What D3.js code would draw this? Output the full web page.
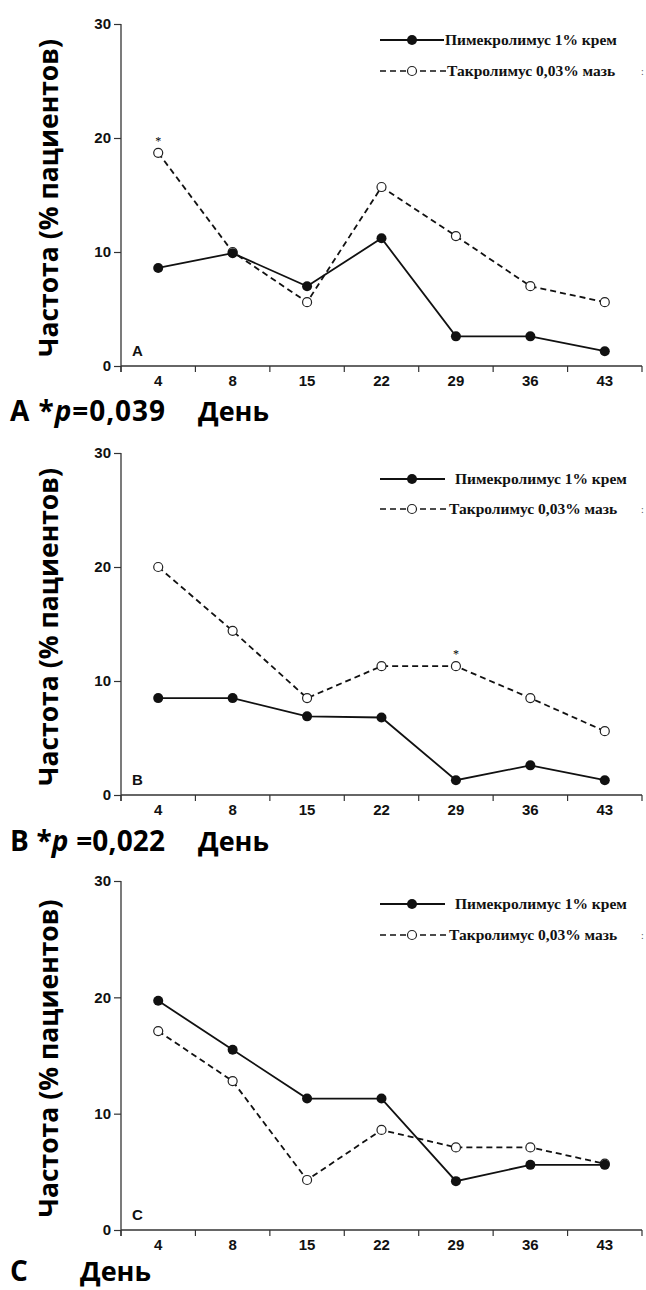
<!DOCTYPE html>
<html><head><meta charset="utf-8">
<script src="https://cdn.jsdelivr.net/npm/d3@7"></script>
<style>
html,body{margin:0;padding:0;background:#fff;}
svg{display:block;}
</style></head>
<body>
<script>
// ---- data ----
const days = ["4","8","15","22","29","36","43"];
const yTicks = [0,10,20,30];
const seriesNames = ["Пимекролимус 1% крем","Такролимус 0,03% мазь"];
const pimeA = [8.6, 9.9, 7.0, 11.2, 2.6, 2.6, 1.3];
const tacroA = [18.7, 10.0, 5.6, 15.7, 11.4, 7.0, 5.6];
const pimeB = [8.5, 8.5, 6.9, 6.8, 1.3, 2.6, 1.3];
const tacroB = [20.0, 14.4, 8.5, 11.3, 11.3, 8.5, 5.6];
const pimeC = [19.7, 15.5, 11.3, 11.3, 4.2, 5.6, 5.6];
const tacroC = [17.1, 12.8, 4.3, 8.6, 7.1, 7.1, 5.7];
const panelLetters = ["A","B","C"];
const bottomLetters = ["А","В","С"];
const pValues = ["=0,039"," =0,022",""];
const starDay = ["4","29",null];
const yTitle = "Частота (% пациентов)";
const xTitle = "День";

const W = 646, H = 1290;
const svg = d3.select("body").append("svg").attr("width", W).attr("height", H);

const panels = [
  {top:24, bottom:366, pime:pimeA, tacro:tacroA, leg:[40,71], lineEnd:[444,446], textX:[445,447], by:421},
  {top:453, bottom:795, pime:pimeB, tacro:tacroB, leg:[479,509], lineEnd:[445,448], textX:[455,449], by:851},
  {top:881, bottom:1230, pime:pimeC, tacro:tacroC, leg:[904,935], lineEnd:[445,448], textX:[455,449], by:1281}
];
const left = 121, right = 642;
const axisColor = "#333";
const numFont = "'Liberation Sans Narrow','Arial Narrow','Liberation Sans',Arial,sans-serif";
const serif = "'Liberation Serif','Times New Roman',serif";
const boldSans = "'Open Sans','Noto Sans',sans-serif";

panels.forEach((p, i) => {
  const g = svg.append("g");
  const x = d3.scaleBand().domain(days).range([left, right]).padding(0);
  const y = d3.scaleLinear().domain([0,30]).range([p.bottom, p.top]);

  // y axis
  const ya = g.append("g").attr("transform", `translate(${left},0)`)
    .call(d3.axisLeft(y).tickValues(yTicks).tickSize(7).tickPadding(3).tickSizeOuter(0));
  ya.select(".domain").attr("stroke", axisColor).attr("stroke-width", 1.3)
    .attr("d", `M0,${y(30)}V${y(0)+6}`);
  ya.selectAll(".tick line").attr("stroke", axisColor).attr("stroke-width", 1.2);
  ya.selectAll(".tick text").attr("font-family", numFont).attr("font-size", 15)
    .attr("font-weight", "bold").attr("fill", "#111");

  // x axis
  const xa = g.append("g").attr("transform", `translate(0,${p.bottom})`)
    .call(d3.axisBottom(x).tickSize(0).tickPadding(9));
  xa.select(".domain").attr("stroke", axisColor).attr("stroke-width", 1.3)
    .attr("d", `M${left},0H${right}`);
  xa.selectAll(".tick text").attr("font-family", numFont).attr("font-size", 15)
    .attr("font-weight", "bold").attr("fill", "#111");
  const bounds = days.map(d => x(d)).concat([right]);
  g.selectAll(".xb").data(bounds).enter().append("line")
    .attr("x1", d => d).attr("x2", d => d)
    .attr("y1", p.bottom).attr("y2", p.bottom + 6)
    .attr("stroke", axisColor).attr("stroke-width", 1.2);

  const cx = d => x(d) + x.bandwidth()/2;
  const line = d3.line().x((v,j) => cx(days[j])).y(v => y(v));

  // tacrolimus dashed
  g.append("path").datum(p.tacro).attr("d", line).attr("fill","none")
    .attr("stroke","#111").attr("stroke-width",1.8).attr("stroke-dasharray","6,4");
  // pimecrolimus solid
  g.append("path").datum(p.pime).attr("d", line).attr("fill","none")
    .attr("stroke","#111").attr("stroke-width",1.8);

  g.selectAll(".tp").data(p.tacro).enter().append("circle")
    .attr("cx",(v,j)=>cx(days[j])).attr("cy",v=>y(v)).attr("r",4.5)
    .attr("fill","#fff").attr("stroke","#222").attr("stroke-width",1.2);
  g.selectAll(".pp").data(p.pime).enter().append("circle")
    .attr("cx",(v,j)=>cx(days[j])).attr("cy",v=>y(v)).attr("r",5)
    .attr("fill","#111");

  // star
  if (starDay[i]) {
    const j = days.indexOf(starDay[i]);
    g.append("text").attr("x", cx(starDay[i])).attr("y", y(p.tacro[j]) - 8)
      .attr("text-anchor","middle").attr("font-family", serif).attr("font-size", 12)
      .text("*");
  }

  // panel letter
  g.append("text").attr("x", 132).attr("y", p.bottom - 10)
    .attr("font-family", "'Liberation Sans',Arial,sans-serif").attr("font-weight","bold")
    .attr("font-size", 15).attr("fill","#111").text(panelLetters[i]);

  // legend
  g.append("line").attr("x1", 380).attr("x2", p.lineEnd[0]).attr("y1", p.leg[0]).attr("y2", p.leg[0])
    .attr("stroke","#111").attr("stroke-width",1.8);
  g.append("circle").attr("cx", 412).attr("cy", p.leg[0]).attr("r", 5).attr("fill","#111");
  g.append("text").attr("x", p.textX[0]).attr("y", p.leg[0] + 5).attr("font-family", serif)
    .attr("font-weight","bold").attr("font-size", 15.5).attr("fill","#111").text(seriesNames[0]);
  g.append("line").attr("x1", 380).attr("x2", p.lineEnd[1]).attr("y1", p.leg[1]).attr("y2", p.leg[1])
    .attr("stroke","#111").attr("stroke-width",1.6).attr("stroke-dasharray","6,4");
  g.append("circle").attr("cx", 412).attr("cy", p.leg[1]).attr("r", 4.5)
    .attr("fill","#fff").attr("stroke","#222").attr("stroke-width",1.2);
  g.append("text").attr("x", p.textX[1]).attr("y", p.leg[1] + 5).attr("font-family", serif)
    .attr("font-weight","bold").attr("font-size", 15.5).attr("fill","#111").text(seriesNames[1]);
  g.append("text").attr("x", 641).attr("y", p.leg[1] + 4).attr("font-family", serif)
    .attr("font-size", 10).attr("fill","#555").text(":");

  // y title
  const ymid = (p.top + p.bottom)/2 + 3;
  g.append("text").attr("transform", `translate(58,${ymid}) rotate(-90)`)
    .attr("text-anchor","middle").attr("font-family", boldSans).attr("font-weight","bold")
    .attr("font-size", 26.5).attr("fill","#000").text(yTitle);

  // bottom label
  const bt = g.append("text").attr("x", 10).attr("y", p.by).attr("font-family", boldSans)
    .attr("font-weight","bold").attr("font-size", 28).attr("fill","#000");
  if (pValues[i]) {
    bt.attr("textLength", 155).attr("lengthAdjust", "spacing");
    bt.append("tspan").text(bottomLetters[i] + " *");
    bt.append("tspan").attr("font-style","italic").text("p");
    bt.append("tspan").text(pValues[i]);
  } else {
    bt.text(bottomLetters[i]);
  }
  g.append("text").attr("x", i===2 ? 80 : 198).attr("y", p.by).attr("font-family", boldSans)
    .attr("font-weight","bold").attr("font-size", 27).attr("fill","#000").text(xTitle);
});
</script>
</body></html>
